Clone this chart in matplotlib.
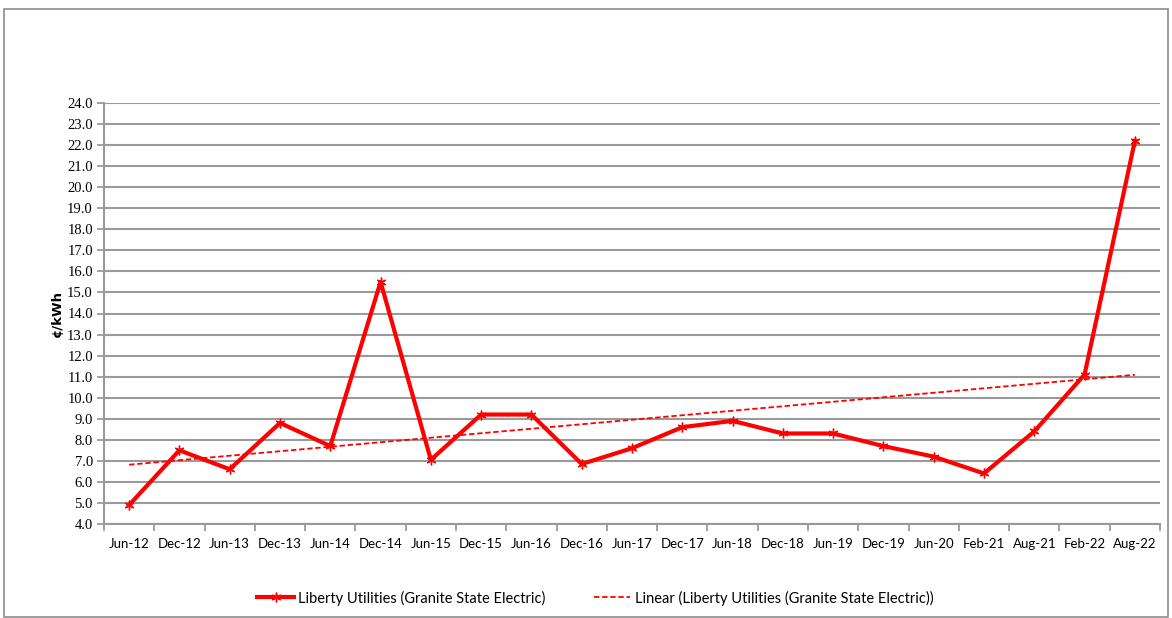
import matplotlib.pyplot as plt
import numpy as np
from matplotlib.patches import Rectangle

labels = ['Jun-12', 'Dec-12', 'Jun-13', 'Dec-13', 'Jun-14', 'Dec-14', 'Jun-15',
          'Dec-15', 'Jun-16', 'Dec-16', 'Jun-17', 'Dec-17', 'Jun-18', 'Dec-18',
          'Jun-19', 'Dec-19', 'Jun-20', 'Feb-21', 'Aug-21', 'Feb-22', 'Aug-22']
rates = [4.9, 7.5, 6.6, 8.8, 7.7, 15.5, 7.05, 9.2, 9.2, 6.85, 7.6, 8.6, 8.9,
         8.3, 8.3, 7.7, 7.2, 6.4, 8.4, 11.1, 22.2]
series_name = 'Liberty Utilities (Granite State Electric)'

x = np.arange(len(labels))
slope, icept = np.polyfit(x, rates, 1)
trend = slope * x + icept

fig = plt.figure(figsize=(11.72, 6.18), dpi=100)
W, H = 1172, 618
ax = fig.add_axes([104 / W, 1 - 524 / H, (1160 - 104) / W, (524 - 103) / H])

# outer chart border
fig.patches.append(Rectangle((4 / W, 1 / H), (1168 - 4) / W, (613 - 5) / H,
                             transform=fig.transFigure, fill=False,
                             edgecolor='#8c8c8c', lw=1.2))

ax.plot(x, rates, color='#ff0000', lw=3, marker=(6, 2, 0), ms=7, mew=1.0,
        label=series_name, zorder=3)
ax.plot(x, trend, color='#ff0000', lw=1.3, ls=(0, (3, 1.5)),
        label='Linear (' + series_name + ')', zorder=2)

ax.set_xlim(-0.5, len(labels) - 0.5)
ax.set_ylim(4, 24)
ax.set_yticks(np.arange(4, 24.1, 1))
ax.set_yticklabels([f'{v:.1f}' for v in np.arange(4, 24.1, 1)],
                   family='Liberation Serif', fontsize=10.5)
ax.yaxis.grid(True, color='#9a9a9a', lw=1.5)
ax.set_axisbelow(True)

ax.set_xticks(x)
ax.set_xticklabels(labels, family='Lato', fontsize=9.5)
ax.set_xticks(np.arange(-0.5, len(labels)), minor=True)
ax.tick_params(axis='x', which='major', length=0, pad=10)
ax.tick_params(axis='x', which='minor', length=5, color='#9a9a9a', width=1.3)
ax.tick_params(axis='y', length=5, color='#9a9a9a', width=1.3, pad=3)

for side in ['top', 'right']:
    ax.spines[side].set_visible(False)
for side in ['left', 'bottom']:
    ax.spines[side].set_color('#9a9a9a')
    ax.spines[side].set_linewidth(1.5)

ax.set_ylabel('¢/kWh', family='DejaVu Sans', fontweight='bold', fontsize=9.5,
              labelpad=2)

fig.legend(loc='center', bbox_to_anchor=(0.508, 1 - 598 / H), ncol=2,
           frameon=False, prop={'family': 'Lato', 'size': 10.5},
           handlelength=2.5, columnspacing=3.3, handletextpad=0.3)

fig.savefig('out.png', dpi=100)
